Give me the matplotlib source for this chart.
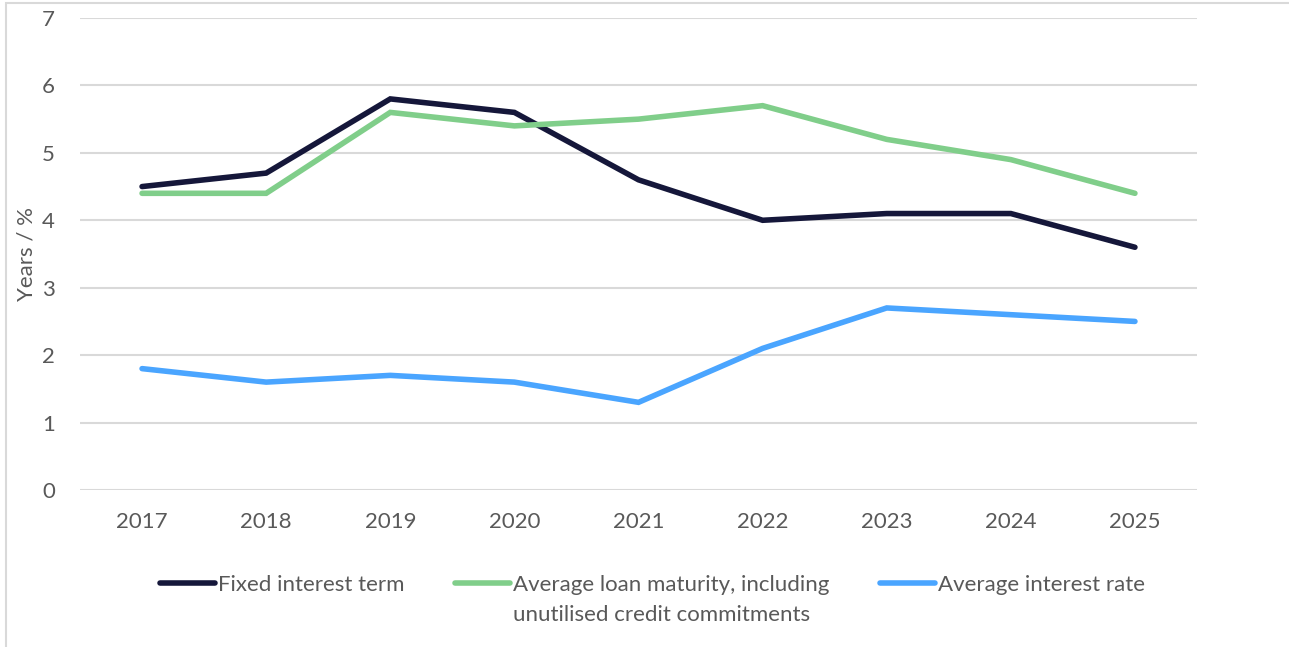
import matplotlib.pyplot as plt
from matplotlib.lines import Line2D
from matplotlib.patches import Rectangle

plt.rcParams['font.family'] = ['Lato', 'DejaVu Sans']

years = ['2017', '2018', '2019', '2020', '2021', '2022', '2023', '2024', '2025']
fixed_term = [4.5, 4.7, 5.8, 5.6, 4.6, 4.0, 4.1, 4.1, 3.6]
loan_maturity = [4.4, 4.4, 5.6, 5.4, 5.5, 5.7, 5.2, 4.9, 4.4]
interest_rate = [1.8, 1.6, 1.7, 1.6, 1.3, 2.1, 2.7, 2.6, 2.5]

labels = ['Fixed interest term',
          'Average loan maturity, including\nunutilised credit commitments',
          'Average interest rate']
colors = ['#15173a', '#80ce8a', '#4aa5ff']
text_col = '#595959'
grid_col = '#d9d9d9'

W, H = 1289, 647
fig = plt.figure(figsize=(W / 100, H / 100), dpi=100)
ax = fig.add_axes([80 / W, 1 - 490 / H, (1197 - 80) / W, (490 - 18) / H])

x = list(range(len(years)))
for vals, c in zip([fixed_term, loan_maturity, interest_rate], colors):
    ax.plot(x, vals, color=c, lw=4, solid_capstyle='round', solid_joinstyle='miter')

ax.set_xlim(-0.5, len(years) - 0.5)
ax.set_ylim(0, 7)
ax.set_yticks(range(8))
ax.set_xticks(x)
ax.set_xticklabels(years)
ax.grid(axis='y', color=grid_col, lw=1.5)
ax.set_axisbelow(True)
for s in ax.spines.values():
    s.set_visible(False)
ax.tick_params(length=0, labelsize=16, labelcolor=text_col)
ax.tick_params(axis='x', pad=16)
ax.tick_params(axis='y', pad=18)
ax.set_ylabel('Years / %', fontsize=16, color=text_col, labelpad=4)

# legend drawn by hand so the handle sits on the first text line
leg_x = [160, 455, 880]
leg_y = 583
for lx, lab, c in zip(leg_x, labels, colors):
    fig.add_artist(Line2D([lx / W, (lx + 55) / W], [1 - leg_y / H] * 2,
                          color=c, lw=4, solid_capstyle='round'))
    fig.text((lx + 58) / W, 1 - (leg_y - 8) / H, lab, fontsize=16,
             color=text_col, va='top', linespacing=1.6)

# light frame around the chart
fig.add_artist(Rectangle((6 / W, -0.05), 1.2, 1 - 3 / H + 0.05,
                         transform=fig.transFigure, fill=False,
                         edgecolor=grid_col, lw=1.5))

fig.savefig('out.png', dpi=100)
